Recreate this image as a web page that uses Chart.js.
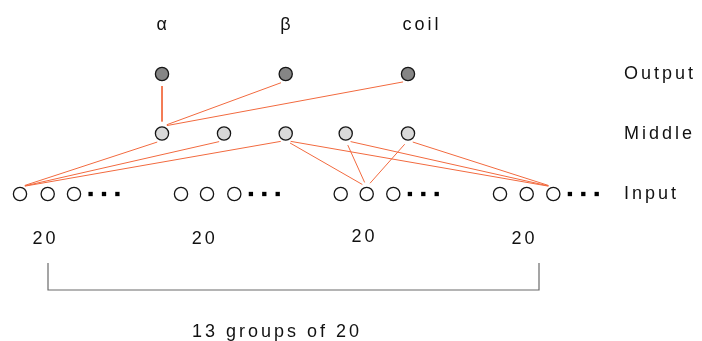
<!DOCTYPE html>
<html>
<head>
<meta charset="utf-8">
<script src="https://cdn.jsdelivr.net/npm/chart.js@4"></script>
<style>
  html, body { margin: 0; padding: 0; background: #ffffff; }
  #wrap { width: 702px; height: 341px; }
</style>
</head>
<body>
<div id="wrap"><canvas id="c" width="702" height="341"></canvas></div>
<script>
// ---- diagram data (data units of a 702 x 341 plane) ----
const topLabels   = ['α', 'β', 'coil'];
const layerLabels = ['Output', 'Middle', 'Input'];
const groupLabels = ['20', '20', '20', '20'];
const footLabel   = '13 groups of 20';

const layerY  = [74, 133.5, 194];                    // output, middle, input rows
const outputX = [162, 285.7, 408];
const middleX = [162, 224, 285.7, 345.7, 408];
const inputX  = [20, 47.7, 74, 181, 207, 234.3, 340.7, 366.7, 393.3, 500, 526.7, 553.3];
const nodesPerGroup = 3;

// connections: [from, to]
const outToMid = [[0, 0], [1, 0], [2, 0]];
const midToIn  = [[0, 0], [1, 0], [2, 0], [2, 7], [2, 11], [3, 7], [3, 11], [4, 7], [4, 11]];

// bracket under the input groups
const bracketX = [48, 539];
const bracketY = [263, 290];

// ---- build datasets ----
const EDGE = '#f26a3f';
const R = 7;      // node edge offset for connection anchors
const GAP = 5;    // gap between line end and anchor

// line from bottom of upper node to top of lower node, slightly shortened
function connector(ax, ay, bx, by) {
  const sx = ax, sy = ay + R, ex = bx, ey = by - R;
  const dx = ex - sx, dy = ey - sy, d = Math.hypot(dx, dy);
  const ux = dx / d, uy = dy / d;
  return [{x: sx + ux * GAP, y: sy + uy * GAP}, {x: ex - ux * GAP, y: ey - uy * GAP}];
}

const datasets = [];

function nodeSet(xs, y, fill) {
  return {
    type: 'scatter',
    data: xs.map(x => ({x, y})),
    pointRadius: 6.6, pointHoverRadius: 6.6,
    pointBackgroundColor: fill, pointBorderColor: '#151515', pointBorderWidth: 1.3,
    showLine: false, clip: false
  };
}
datasets.push(nodeSet(outputX, layerY[0], '#858585'));
datasets.push(nodeSet(middleX, layerY[1], '#d9d9d9'));
datasets.push(nodeSet(inputX, layerY[2], '#ffffff'));

// ellipsis squares after each input group
const dots = [];
for (let g = 0; g < inputX.length / nodesPerGroup; g++) {
  const last = inputX[g * nodesPerGroup + nodesPerGroup - 1];
  [16.6, 30, 43.4].forEach(o => dots.push({x: last + o, y: layerY[2]}));
}
datasets.push({
  type: 'scatter', data: dots, pointStyle: 'rect', pointRadius: 3.05, pointHoverRadius: 3.05,
  pointBackgroundColor: '#000', pointBorderWidth: 0, showLine: false, clip: false
});

function edgeSet(pts) {
  return {
    type: 'line', data: pts, borderColor: EDGE, borderWidth: 1, pointRadius: 0,
    pointHoverRadius: 0, fill: false, tension: 0, clip: false
  };
}
outToMid.forEach(([o, m]) => datasets.push(edgeSet(connector(outputX[o], layerY[0], middleX[m], layerY[1]))));
midToIn.forEach(([m, i]) => datasets.push(edgeSet(connector(middleX[m], layerY[1], inputX[i], layerY[2]))));

// bracket
datasets.push({
  type: 'line',
  data: [{x: bracketX[0], y: bracketY[0]}, {x: bracketX[0], y: bracketY[1]},
         {x: bracketX[1], y: bracketY[1]}, {x: bracketX[1], y: bracketY[0]}],
  borderColor: '#6a6a6a', borderWidth: 1.2, pointRadius: 0, pointHoverRadius: 0,
  fill: false, tension: 0, clip: false
});

// ---- text plugin ----
const textPlugin = {
  id: 'diagramText',
  afterDatasetsDraw(chart) {
    const {ctx, scales: {x, y}} = chart;
    ctx.save();
    ctx.fillStyle = '#111';
    ctx.font = '18px "Liberation Sans", Arial, sans-serif';
    ctx.letterSpacing = '3px';
    ctx.textBaseline = 'alphabetic';

    ctx.textAlign = 'left';
    topLabels.forEach((t, i) => ctx.fillText(t, x.getPixelForValue(outputX[i] - 5.5), y.getPixelForValue(30)));
    layerLabels.forEach((t, i) => ctx.fillText(t, x.getPixelForValue(624), y.getPixelForValue(layerY[i] + 5)));

    ctx.textAlign = 'center';
    groupLabels.forEach((t, g) => {
      const cx = inputX[g * nodesPerGroup + 1] - 2.3;
      const by = g === 2 ? 242 : 244;
      ctx.fillText(t, x.getPixelForValue(cx), y.getPixelForValue(by));
    });

    ctx.textAlign = 'left';
    ctx.fillText(footLabel, x.getPixelForValue(192), y.getPixelForValue(337));
    ctx.restore();
  }
};

new Chart(document.getElementById('c'), {
  type: 'scatter',
  data: { datasets },
  options: {
    responsive: false,
    devicePixelRatio: 1,
    animation: false,
    events: [],
    layout: { padding: 0, autoPadding: false },
    plugins: { legend: { display: false }, tooltip: { enabled: false } },
    scales: {
      x: { type: 'linear', min: 0, max: 702, display: false },
      y: { type: 'linear', min: 0, max: 341, reverse: true, display: false }
    }
  },
  plugins: [textPlugin]
});
</script>
</body>
</html>
